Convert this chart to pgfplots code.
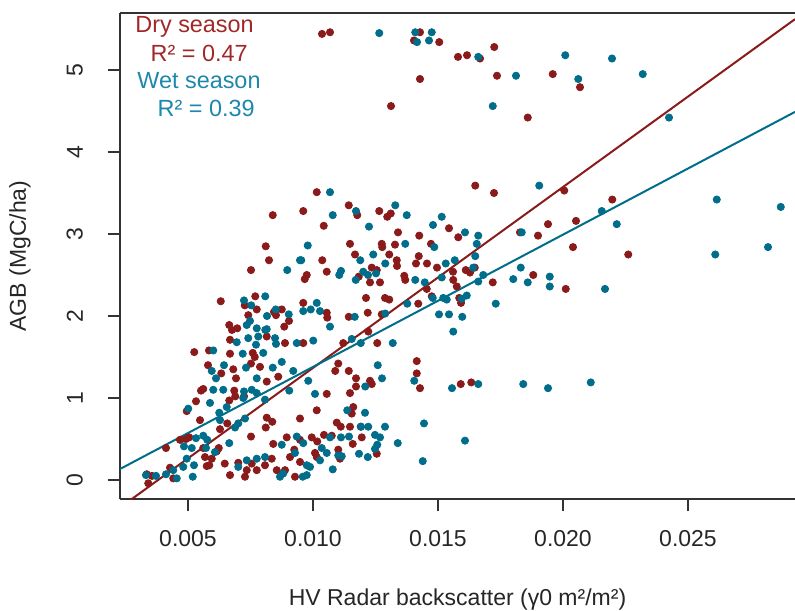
\documentclass[border=0pt]{standalone}
\usepackage{fontspec}
\setmainfont{Liberation Sans}
\usepackage{pgfplots}
\pgfplotsset{compat=1.18}
\definecolor{dryc}{RGB}{139,26,26}
\definecolor{wetc}{RGB}{0,110,139}
\definecolor{drytxt}{RGB}{160,40,40}
\definecolor{wettxt}{RGB}{30,135,172}
\begin{document}
\begin{tikzpicture}
\begin{axis}[
  at={(0,0)}, anchor=south west,
  scale only axis, width=337.5pt, height=243pt,
  xmin=0.00228, xmax=0.02928, ymin=-0.2317, ymax=5.695,
  axis x line*=bottom, axis y line*=left,
  axis line style={line width=0.6pt, black!80, -},
  tick align=outside, major tick length=6pt,
  tick style={line width=0.6pt, black!80},
  xtick={0.005,0.010,0.015,0.020,0.025},
  ytick={0,1,2,3,4,5},
  scaled x ticks=false,
  xticklabel style={/pgf/number format/fixed, /pgf/number format/precision=3, /pgf/number format/fixed zerofill, yshift=-6pt},
  yticklabel style={rotate=90, anchor=south, yshift=9pt},
  /pgf/number format/assume math mode=true,
  every tick label/.append style={font=\fontsize{11.5}{13}\selectfont, text=black!85},
  xlabel={HV Radar backscatter (γ0 m²/m²)},
  label style={font=\fontsize{11.5}{13}\selectfont, text=black!85},
  xlabel style={at={(axis description cs:0.5,0)}, anchor=center, yshift=-50.5pt},
  clip=true,
]
\addplot[only marks, mark=*, mark size=1.8pt, color=dryc] table {
x y
0.01649 3.59
0.01724 3.50
0.02005 3.53
0.02197 3.42
0.01828 3.02
0.01900 2.98
0.01940 3.12
0.02052 3.16
0.02040 2.84
0.02261 2.75
0.01647 2.59
0.01628 2.53
0.01719 2.41
0.01881 2.50
0.02011 2.33
0.01633 1.19
0.01036 5.44
0.01068 5.46
0.01428 5.46
0.01404 5.36
0.01505 5.34
0.01580 5.16
0.01616 5.18
0.01668 5.14
0.01725 5.28
0.01736 4.93
0.01959 4.95
0.02068 4.79
0.01428 4.89
0.01312 4.56
0.01859 4.42
0.01015 3.51
0.00839 3.23
0.00811 2.85
0.00824 2.68
0.00752 2.56
0.00631 2.18
0.00769 2.24
0.00727 2.13
0.00775 2.08
0.00741 2.01
0.00844 2.05
0.00875 2.08
0.00852 2.01
0.00904 1.94
0.00885 1.87
0.00665 1.89
0.00697 1.85
0.00961 3.28
0.01143 3.35
0.01177 3.23
0.01265 3.28
0.01297 3.21
0.01311 3.25
0.01043 3.10
0.01340 3.02
0.01425 2.98
0.01544 3.07
0.01148 2.88
0.01275 2.88
0.01277 2.84
0.01328 2.87
0.01472 2.88
0.01581 2.96
0.01037 2.68
0.01168 2.75
0.01305 2.75
0.01335 2.68
0.01336 2.61
0.01423 2.73
0.01412 2.64
0.01456 2.64
0.01496 2.59
0.01560 2.54
0.01611 2.56
0.00975 2.50
0.00967 2.45
0.01055 2.54
0.01235 2.59
0.01255 2.56
0.01183 2.48
0.01228 2.41
0.01268 2.41
0.01365 2.49
0.01369 2.44
0.01455 2.33
0.01561 2.44
0.01575 2.36
0.01212 2.22
0.01288 2.22
0.01305 2.20
0.01421 2.15
0.01475 2.24
0.01592 2.16
0.01219 2.04
0.01275 2.02
0.01055 2.04
0.01057 1.98
0.01143 1.99
0.00961 2.16
0.01585 2.22
0.00525 1.56
0.00584 1.58
0.00668 1.71
0.00676 1.83
0.00668 1.54
0.00759 1.55
0.00767 1.50
0.00888 1.67
0.00815 1.75
0.00580 1.40
0.00633 1.30
0.00681 1.35
0.00692 1.24
0.00752 1.42
0.00788 1.38
0.00815 1.20
0.00861 1.26
0.00552 1.09
0.00561 1.11
0.00532 0.96
0.00495 0.84
0.00685 1.09
0.00665 0.97
0.00689 1.02
0.00724 1.02
0.00548 0.73
0.00628 0.62
0.00657 0.69
0.00815 0.76
0.00837 0.71
0.00811 0.64
0.00752 0.53
0.00492 0.50
0.00505 0.52
0.00468 0.49
0.00412 0.39
0.00841 0.44
0.00895 0.52
0.00561 0.39
0.00623 0.39
0.00568 0.28
0.00595 0.26
0.00615 0.35
0.00647 0.20
0.00575 0.17
0.00585 0.18
0.00668 0.06
0.00701 0.21
0.00735 0.12
0.00728 0.04
0.00755 0.20
0.00775 0.12
0.00808 0.18
0.00835 0.26
0.00855 0.12
0.00888 0.12
0.00908 0.28
0.00928 0.04
0.00428 0.15
0.00356 0.05
0.00341 -0.04
0.00441 0.02
0.00335 0.07
0.00925 0.37
0.00961 1.67
0.01121 1.67
0.01221 1.81
0.01257 1.67
0.01101 1.42
0.01089 1.33
0.01143 1.33
0.01172 1.24
0.01228 1.21
0.01235 1.17
0.01172 1.14
0.01148 1.06
0.01055 1.05
0.01415 1.45
0.01415 1.30
0.01428 1.12
0.01591 1.17
0.01015 0.85
0.01161 0.89
0.01155 0.81
0.01095 0.70
0.01111 0.65
0.01148 0.65
0.01191 0.65
0.01195 0.52
0.01159 0.44
0.00995 0.52
0.01017 0.47
0.01044 0.55
0.01075 0.54
0.00948 0.75
0.01008 0.33
0.01015 0.28
0.01101 0.37
0.01108 0.26
0.01255 0.32
0.00948 0.49
0.00948 0.22
};
\addplot[only marks, mark=*, mark size=1.8pt, color=wetc] table {
x y
0.01905 3.59
0.02615 3.42
0.02871 3.33
0.02155 3.28
0.02215 3.12
0.01835 3.02
0.01661 2.98
0.01655 2.88
0.01649 2.73
0.02609 2.75
0.02820 2.84
0.01641 2.59
0.01681 2.50
0.01661 2.42
0.01831 2.59
0.01801 2.45
0.01859 2.41
0.01947 2.48
0.01947 2.36
0.02168 2.33
0.01731 2.15
0.01661 1.17
0.01841 1.17
0.01940 1.12
0.02111 1.19
0.01265 5.45
0.01409 5.46
0.01475 5.46
0.01416 5.34
0.01464 5.36
0.01661 5.16
0.01812 4.93
0.02009 5.18
0.02061 4.89
0.01719 4.56
0.01068 3.51
0.02196 5.14
0.02319 4.95
0.02424 4.42
0.00948 2.68
0.00897 2.56
0.00724 2.19
0.00809 2.24
0.00753 2.13
0.00851 2.08
0.00816 2.00
0.00903 2.02
0.00748 1.94
0.00735 1.89
0.00775 1.85
0.00815 1.84
0.01079 3.23
0.01172 3.28
0.01329 3.35
0.01375 3.23
0.01224 3.09
0.01515 3.21
0.01480 3.11
0.01608 3.02
0.00979 2.86
0.01369 2.88
0.01485 2.84
0.00953 2.68
0.01189 2.68
0.01241 2.75
0.01289 2.64
0.01531 2.64
0.01567 2.68
0.01112 2.55
0.01105 2.50
0.01171 2.44
0.01201 2.54
0.01220 2.50
0.01252 2.52
0.01409 2.44
0.01447 2.41
0.01515 2.47
0.01479 2.22
0.01521 2.22
0.01535 2.20
0.01615 2.25
0.01595 2.21
0.01377 2.15
0.01289 2.03
0.01504 2.02
0.01544 2.02
0.01597 1.99
0.00961 2.06
0.00991 2.08
0.01015 2.16
0.01028 2.06
0.01167 1.99
0.01068 1.87
0.00601 1.58
0.00695 1.68
0.00719 1.54
0.00772 1.65
0.00741 1.73
0.00809 1.83
0.00848 1.73
0.00852 1.66
0.00781 1.75
0.00801 1.55
0.00875 1.44
0.00839 1.37
0.00732 1.37
0.00775 1.24
0.00595 1.33
0.00644 1.40
0.00612 1.24
0.00601 1.10
0.00641 1.10
0.00724 1.08
0.00755 1.10
0.00775 1.06
0.00808 0.98
0.00905 1.09
0.00921 1.33
0.00935 1.67
0.00588 0.94
0.00625 0.82
0.00655 0.89
0.00721 1.00
0.00501 0.87
0.00628 0.73
0.00688 0.64
0.00728 0.75
0.00701 0.69
0.00532 0.51
0.00561 0.54
0.00577 0.49
0.00484 0.41
0.00515 0.39
0.00572 0.39
0.00608 0.34
0.00665 0.45
0.00735 0.24
0.00775 0.26
0.00808 0.28
0.00875 0.43
0.00495 0.26
0.00524 0.18
0.00481 0.16
0.00441 0.12
0.00412 0.07
0.00455 0.02
0.00332 0.06
0.00372 0.05
0.00519 0.04
0.00701 0.16
0.00868 0.04
0.00881 0.08
0.00928 0.33
0.00935 0.53
0.01001 1.70
0.01155 1.72
0.01191 1.67
0.01319 1.67
0.01561 1.81
0.00981 1.21
0.01008 1.05
0.01259 1.40
0.01276 1.24
0.01209 1.14
0.01405 1.21
0.01556 1.12
0.01137 0.85
0.01208 0.82
0.01192 0.65
0.01221 0.65
0.01288 0.65
0.01444 0.69
0.01248 0.55
0.01268 0.52
0.01257 0.43
0.01248 0.38
0.01144 0.53
0.01112 0.52
0.01068 0.52
0.00961 0.45
0.01035 0.39
0.01055 0.33
0.01101 0.30
0.01115 0.29
0.01184 0.32
0.01219 0.28
0.01339 0.45
0.01608 0.48
0.01439 0.23
0.01028 0.24
0.00975 0.18
0.00988 0.16
0.00975 0.06
0.00959 0.04
0.01079 0.13
};
\addplot[color=dryc, line width=1pt] coordinates {(0.00228,-0.336) (0.02928,5.620)};
\addplot[color=wetc, line width=1pt] coordinates {(0.00228,0.134) (0.02928,4.489)};
\end{axis}
\draw[line width=0.6pt, black!80] (0,243pt) -- (337.5pt,243pt);
\node[rotate=90, anchor=center, text=black!85, font=\fontsize{11.5}{13}\selectfont] at (-50pt,121.5pt) {AGB (MgC/ha)};
\begin{scope}[every node/.style={inner sep=0pt, font=\fontsize{11.7}{14}\selectfont}]
\node[anchor=west, text=drytxt] at (7.5pt,236pt) {Dry season};
\node[anchor=east, text=drytxt] at (64pt,223pt) {R² = 0.47};
\node[anchor=west, text=wettxt] at (8.5pt,209pt) {Wet season};
\node[anchor=east, text=wettxt] at (67.5pt,195.5pt) {R² = 0.39};
\end{scope}
\pgfresetboundingbox
\useasboundingbox (-60pt,-55.5pt) rectangle (337.5pt,249.5pt);
\end{tikzpicture}
\end{document}
